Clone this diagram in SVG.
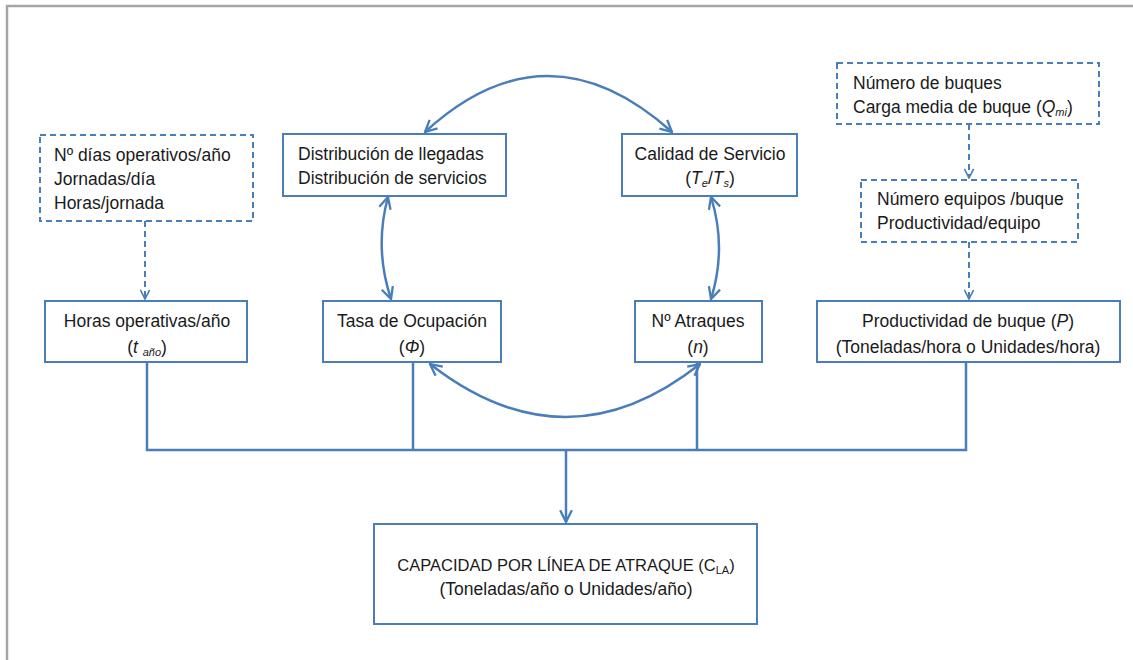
<svg xmlns="http://www.w3.org/2000/svg" width="1133" height="660" viewBox="0 0 1133 660">
<defs>
<style>
.box{fill:#fff;stroke:#4a7ebb;stroke-width:2}
.dbox{fill:#fff;stroke:#4a7ebb;stroke-width:2;stroke-dasharray:6,4}
.ln{fill:none;stroke:#4a7ebb;stroke-width:2.5}
.dl{fill:none;stroke:#4a7ebb;stroke-width:2;stroke-dasharray:6,4}
text{font-family:"Liberation Sans",Arial,sans-serif;font-size:17.5px;fill:#1a1a1a}
.c{text-anchor:middle}
.i{font-style:italic}
.cap{font-size:16.5px}
</style>
<marker id="ah" viewBox="0 0 12 12" refX="11" refY="6" markerWidth="14" markerHeight="14" markerUnits="userSpaceOnUse" orient="auto-start-reverse">
<path d="M1,1 L11,6 L1,11" fill="none" stroke="#4a7ebb" stroke-width="2"/>
</marker>
<marker id="ahs" viewBox="0 0 12 12" refX="11" refY="6" markerWidth="11" markerHeight="11" markerUnits="userSpaceOnUse" orient="auto">
<path d="M1,1 L11,6 L1,11" fill="none" stroke="#4a7ebb" stroke-width="1.8"/>
</marker>
</defs>
<rect width="1133" height="660" fill="#fff"/>
<path d="M7,660 L7,6 L1133,6" fill="none" stroke="#a6a6a6" stroke-width="2.5"/>

<g id="connectors">
<path class="dl" d="M145,221 L145,299" marker-end="url(#ahs)"/>
<path class="dl" d="M969,124 L969,178" marker-end="url(#ahs)"/>
<path class="dl" d="M969,242 L969,299" marker-end="url(#ahs)"/>
<path class="ln" d="M425,132 Q547,20 672,132" marker-start="url(#ah)" marker-end="url(#ah)"/>
<path class="ln" d="M430,364 Q566,470 700,364" marker-start="url(#ah)" marker-end="url(#ah)"/>
<path class="ln" d="M388,197 Q374,248 391,299" marker-start="url(#ah)" marker-end="url(#ah)"/>
<path class="ln" d="M711,197 Q727,248 711,299" marker-start="url(#ah)" marker-end="url(#ah)"/>
<path class="ln" d="M147,362 L147,450 L966,450 L966,362 M413,362 L413,450 M697,362 L697,450"/>
<path class="ln" d="M566,450 L566,522" marker-end="url(#ah)"/>
</g>

<g id="n_dias">
<rect class="dbox" x="40" y="135" width="213" height="86"/>
<text x="54" y="161">Nº días operativos/año</text>
<text x="54" y="185">Jornadas/día</text>
<text x="54" y="209">Horas/jornada</text>
</g>

<g id="n_distribucion">
<rect class="box" x="283" y="134" width="223" height="62"/>
<text x="298" y="160">Distribución de llegadas</text>
<text x="298" y="184">Distribución de servicios</text>
</g>

<g id="n_calidad">
<rect class="box" x="622" y="134" width="175" height="62"/>
<text class="c" x="710" y="160">Calidad de Servicio</text>
<text class="c" x="710" y="184">(<tspan class="i">T</tspan><tspan class="i" font-size="11" dy="3">e</tspan><tspan dy="-3">/</tspan><tspan class="i">T</tspan><tspan class="i" font-size="11" dy="3">s</tspan><tspan dy="-3">)</tspan></text>
</g>

<g id="n_buques">
<rect class="dbox" x="837" y="63" width="262" height="61"/>
<text x="853" y="89">Número de buques</text>
<text x="853" y="113">Carga media de buque  (<tspan class="i">Q</tspan><tspan class="i" font-size="11" dy="3">mi</tspan><tspan dy="-3">)</tspan></text>
</g>

<g id="n_equipos">
<rect class="dbox" x="861" y="180" width="217" height="62"/>
<text x="877" y="205">Número equipos /buque</text>
<text x="877" y="229">Productividad/equipo</text>
</g>

<g id="n_horas">
<rect class="box" x="45" y="301" width="202" height="61"/>
<text class="c" x="147" y="327">Horas operativas/año</text>
<text class="c" x="147" y="353">(<tspan class="i">t </tspan><tspan class="i" font-size="11" dy="3">año</tspan><tspan dy="-3">)</tspan></text>
</g>

<g id="n_tasa">
<rect class="box" x="323" y="301" width="178" height="61"/>
<text class="c" x="412" y="327">Tasa de Ocupación</text>
<text class="c" x="412" y="353">(<tspan class="i">Φ</tspan>)</text>
</g>

<g id="n_atraques">
<rect class="box" x="635" y="301" width="127" height="61"/>
<text class="c" x="698" y="327">Nº Atraques</text>
<text class="c" x="698" y="353">(<tspan class="i">n</tspan>)</text>
</g>

<g id="n_productividad">
<rect class="box" x="817" y="301" width="303" height="61"/>
<text class="c" x="968" y="327">Productividad de buque (<tspan class="i">P</tspan>)</text>
<text class="c" x="968" y="353">(Toneladas/hora o Unidades/hora)</text>
</g>

<g id="n_capacidad">
<rect class="box" x="374" y="524" width="383" height="100"/>
<text class="c cap" x="566" y="571">CAPACIDAD POR LÍNEA DE ATRAQUE (C<tspan font-size="11" dy="3">LA</tspan><tspan dy="-3">)</tspan></text>
<text class="c" x="566" y="595">(Toneladas/año o Unidades/año)</text>
</g>
</svg>
